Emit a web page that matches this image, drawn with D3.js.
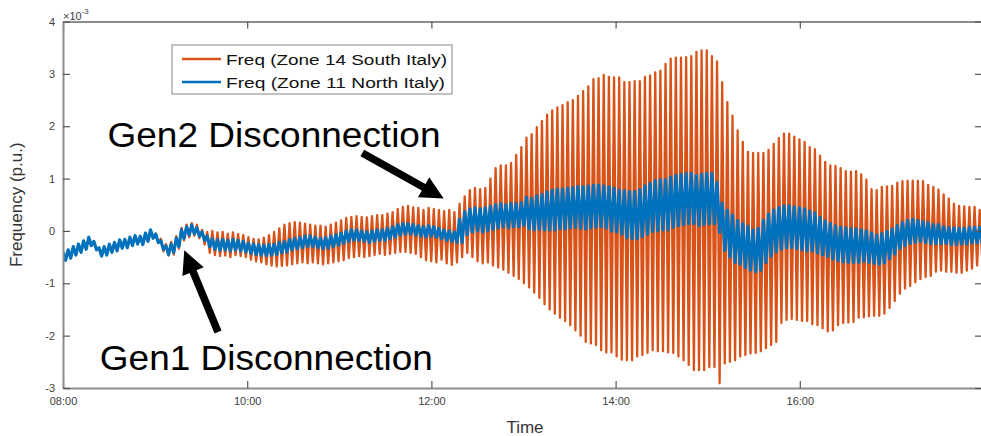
<!DOCTYPE HTML>
<html>
<head>
  <meta charset="utf-8">
  <title>Zone frequency after generator disconnections</title>
  <script src="https://d3js.org/d3.v7.min.js"></script>
  <style>
    body { margin: 0; background: #fff; }
    svg text { font-family: "Liberation Sans", Arial, sans-serif; }
    .axis .domain { stroke: #8c8c8c; stroke-width: 2; }
    .axis .tick line { stroke: #555; stroke-width: 1.2; }
    .axis .tick text { fill: #404040; font-size: 11px; }
  </style>
</head>
<body>
  <script>
    // one swing per cycle: the peak is at the cycle start, the trough half a cycle later
    var cycleStart = "08:00";
    var cycleMinutes = 3.355;

    var xTicks = ["08:00", "10:00", "12:00", "14:00", "16:00"];
    var yTicks = [-3, -2, -1, 0, 1, 2, 3, 4];

    // Freq (Zone 14 South Italy), in 1e-3 p.u.
    var southPeaks = [
      -0.41,-0.37,-0.31,-0.26,-0.20,-0.13,-0.21,-0.33,-0.31,-0.26,-0.23,-0.18,-0.17,-0.13,-0.10,-0.11,-0.05,0.01,-0.05,
      -0.15,-0.25,-0.21,-0.10,0.06,0.12,0.15,0.12,0.02,
      -0.02,0.00,-0.03,-0.02,-0.05,-0.03,-0.06,-0.08,-0.12,-0.15,-0.16,-0.13,-0.08,-0.02,0.05,0.12,0.15,0.17,0.16,0.14,0.12,0.10,0.10,0.08,0.12,
      0.16,0.20,0.25,0.27,0.28,0.27,0.26,0.28,0.30,0.30,0.33,0.36,0.42,0.46,0.48,0.45,0.44,0.40,0.44,0.42,0.40,0.38,0.40,0.36,
      0.52,0.66,0.78,0.82,0.80,0.82,1.00,1.20,1.25,1.25,1.30,1.45,1.60,1.78,1.85,1.98,2.10,2.22,2.30,2.36,2.40,2.46,2.50,
      2.58,2.67,2.76,2.90,2.92,2.98,2.94,2.93,2.93,2.84,2.84,2.86,2.86,2.94,2.97,3.03,3.06,3.19,3.29,3.31,3.31,3.32,3.34,3.42,3.45,3.45,3.34,3.24,
      2.84,2.46,2.20,1.92,1.70,1.51,1.49,1.49,1.49,1.55,1.66,1.77,1.86,1.86,1.80,1.75,1.70,1.60,1.56,1.44,
      1.32,1.25,1.24,1.20,1.14,1.13,1.14,1.08,0.98,0.80,0.78,0.84,0.85,0.86,0.92,0.95,0.96,0.96,0.96,0.95,0.88,0.84,0.79,0.70,0.62,0.52,0.48,0.47,0.46,0.46,0.40,0.38
    ];
    var southTroughs = [
      -0.55,-0.51,-0.45,-0.40,-0.34,-0.27,-0.35,-0.47,-0.45,-0.40,-0.37,-0.32,-0.31,-0.27,-0.24,-0.25,-0.19,-0.13,-0.23,
      -0.39,-0.47,-0.45,-0.34,-0.18,-0.12,-0.09,-0.14,-0.26,
      -0.42,-0.46,-0.48,-0.47,-0.50,-0.46,-0.48,-0.50,-0.55,-0.58,-0.60,-0.64,-0.66,-0.68,-0.67,-0.66,-0.64,-0.62,-0.60,-0.62,-0.60,-0.62,-0.64,-0.62,-0.60,
      -0.58,-0.56,-0.52,-0.50,-0.48,-0.50,-0.48,-0.46,-0.44,-0.46,-0.44,-0.42,-0.40,-0.40,-0.42,-0.44,-0.50,-0.56,-0.58,-0.60,-0.55,-0.62,-0.65,-0.60,
      -0.50,-0.42,-0.50,-0.58,-0.62,-0.60,-0.66,-0.70,-0.74,-0.80,-0.86,-0.92,-1.00,-1.08,-1.18,-1.28,-1.40,-1.50,-1.58,-1.66,-1.72,-1.80,-1.90,
      -2.00,-2.12,-2.15,-2.18,-2.28,-2.32,-2.32,-2.40,-2.46,-2.47,-2.47,-2.40,-2.37,-2.33,-2.28,-2.30,-2.30,-2.32,-2.33,-2.40,-2.47,-2.56,-2.66,-2.66,-2.66,-2.60,-2.60,-2.91,
      -2.53,-2.50,-2.47,-2.40,-2.37,-2.34,-2.33,-2.30,-2.24,-2.18,-2.12,-1.76,-1.70,-1.68,-1.70,-1.72,-1.72,-1.78,-1.80,-1.86,
      -1.92,-1.90,-1.80,-1.76,-1.75,-1.74,-1.66,-1.65,-1.63,-1.62,-1.62,-1.58,-1.47,-1.34,-1.20,-1.10,-1.05,-0.98,-0.92,-0.88,-0.86,-0.78,-0.76,-0.78,-0.78,-0.80,-0.80,-0.76,-0.72,-0.66,-0.58,-0.54
    ];

    // Freq (Zone 11 North Italy), in 1e-3 p.u.
    var northPeaks = [
      -0.40,-0.36,-0.30,-0.25,-0.19,-0.12,-0.20,-0.32,-0.30,-0.25,-0.22,-0.17,-0.16,-0.12,-0.09,-0.10,-0.04,0.02,-0.06,-0.19,-0.29,-0.25,-0.14,0.02,0.08,0.11,0.06,-0.02,
      -0.10,-0.15,-0.17,-0.16,-0.18,-0.16,-0.18,-0.20,-0.23,-0.25,-0.26,-0.27,-0.26,-0.25,-0.22,-0.20,-0.16,-0.14,-0.12,-0.10,-0.10,-0.12,-0.14,-0.13,-0.10,
      -0.07,-0.04,0.00,0.02,0.02,0.00,-0.02,0.00,0.02,0.02,0.05,0.08,0.12,0.14,0.14,0.12,0.10,0.08,0.10,0.08,0.05,0.02,0.00,-0.02,
      0.22,0.37,0.42,0.44,0.42,0.44,0.47,0.50,0.52,0.50,0.52,0.52,0.54,0.64,0.62,0.67,0.70,0.74,0.78,0.80,0.80,0.82,0.83,
      0.85,0.84,0.86,0.87,0.88,0.86,0.84,0.82,0.78,0.77,0.75,0.75,0.79,0.86,0.91,0.96,0.98,0.98,1.03,1.06,1.08,1.10,1.10,1.06,1.08,1.10,1.10,0.93,
      0.53,0.40,0.30,0.20,0.14,0.09,0.02,0.05,0.20,0.32,0.40,0.45,0.48,0.48,0.46,0.44,0.42,0.38,0.34,0.26,
      0.19,0.14,0.09,0.07,0.06,0.04,0.04,0.02,0.00,-0.04,-0.08,-0.05,-0.01,0.04,0.10,0.16,0.20,0.22,0.20,0.18,0.16,0.12,0.12,0.08,0.06,0.06,0.05,0.05,0.07,0.07,0.07,0.07
    ];
    var northTroughs = [
      -0.56,-0.52,-0.46,-0.41,-0.35,-0.28,-0.36,-0.48,-0.46,-0.41,-0.38,-0.33,-0.32,-0.28,-0.25,-0.26,-0.20,-0.14,-0.22,-0.35,-0.45,-0.41,-0.30,-0.14,-0.08,-0.05,-0.10,-0.18,
      -0.30,-0.35,-0.37,-0.36,-0.38,-0.36,-0.38,-0.40,-0.43,-0.45,-0.46,-0.47,-0.46,-0.45,-0.42,-0.40,-0.36,-0.34,-0.32,-0.30,-0.30,-0.32,-0.34,-0.33,-0.30,
      -0.27,-0.24,-0.20,-0.18,-0.18,-0.20,-0.22,-0.20,-0.18,-0.18,-0.15,-0.12,-0.08,-0.06,-0.06,-0.08,-0.10,-0.12,-0.10,-0.12,-0.15,-0.18,-0.20,-0.22,
      -0.22,-0.07,-0.02,0.00,-0.02,0.00,0.03,0.06,0.08,0.06,0.08,0.08,0.10,0.04,0.02,0.03,0.02,0.02,0.02,0.04,0.04,0.06,0.07,
      0.05,0.04,0.06,0.07,0.08,0.06,0.00,-0.02,-0.06,-0.13,-0.15,-0.15,-0.11,-0.06,-0.01,0.00,0.02,0.02,0.07,0.10,0.12,0.14,0.14,0.10,0.12,0.14,0.14,-0.03,
      -0.37,-0.50,-0.60,-0.64,-0.70,-0.75,-0.78,-0.75,-0.60,-0.48,-0.40,-0.35,-0.32,-0.32,-0.34,-0.36,-0.38,-0.38,-0.42,-0.46,
      -0.49,-0.54,-0.57,-0.59,-0.60,-0.60,-0.60,-0.58,-0.60,-0.62,-0.64,-0.61,-0.53,-0.44,-0.34,-0.28,-0.24,-0.22,-0.20,-0.22,-0.24,-0.24,-0.24,-0.24,-0.26,-0.26,-0.25,-0.25,-0.23,-0.23,-0.23,-0.23
    ];

    var seriesNames = ["Freq (Zone 14 South Italy)", "Freq (Zone 11 North Italy)"];
    var seriesColors = ["#D95319", "#0072BD"];

    // annotation anchors in data units (time, 1e-3 p.u.)
    var notes = [
      { text: "Gen2 Disconnection", at: ["08:29", 1.60], tail: ["11:15", 1.49], tip: ["12:08", 0.62] },
      { text: "Gen1 Disconnection", at: ["08:24", -2.66], tail: ["09:41", -1.93], tip: ["09:19", -0.37] }
    ];

    var width = 981;
    var height = 436;
    var parseTime = d3.timeParse("%H:%M");

    var x = d3.scaleTime()
      .domain([parseTime("08:00"), parseTime("18:00")])
      .range([63, 984]);
    var y = d3.scaleLinear()
      .domain([-3, 4])
      .range([388, 21.5]);

    function buildSeries(peaks, troughs) {
      var t0 = +parseTime(cycleStart);
      var step = cycleMinutes * 60000;
      var pts = [];
      peaks.forEach(function(p, i) {
        pts.push({ t: new Date(t0 + i * step), v: p });
        pts.push({ t: new Date(t0 + (i + 0.5) * step), v: troughs[i] });
      });
      return pts;
    }

    var series = [
      buildSeries(southPeaks, southTroughs),
      buildSeries(northPeaks, northTroughs)
    ];

    var svg = d3.select("body")
      .append("svg")
      .attr("width", width)
      .attr("height", height);

    svg.append("clipPath")
      .attr("id", "plot")
      .append("rect")
      .attr("x", x.range()[0])
      .attr("y", y.range()[1])
      .attr("width", x.range()[1] - x.range()[0])
      .attr("height", y.range()[0] - y.range()[1]);

    var line = d3.line()
      .x(function(d) { return x(d.t); })
      .y(function(d) { return y(d.v); });

    svg.append("g")
      .attr("clip-path", "url(#plot)")
      .selectAll("path")
      .data(series)
      .enter()
      .append("path")
      .attr("d", line)
      .attr("fill", "none")
      .attr("stroke", function(d, i) { return seriesColors[i]; })
      .attr("stroke-width", function(d, i) { return i == 0 ? 2.3 : 3.2; })
      .attr("stroke-linejoin", "round");

    // axes box, ticks pointing inward like MATLAB
    var xTickDates = xTicks.map(parseTime);

    svg.append("g")
      .attr("class", "axis")
      .attr("transform", "translate(0," + y.range()[0] + ")")
      .call(d3.axisBottom(x).tickValues(xTickDates).tickFormat(d3.timeFormat("%H:%M"))
        .tickSizeInner(-7).tickSizeOuter(0).tickPadding(9));

    svg.append("g")
      .attr("class", "axis")
      .attr("transform", "translate(0," + y.range()[1] + ")")
      .call(d3.axisTop(x).tickValues(xTickDates).tickFormat("")
        .tickSizeInner(-7).tickSizeOuter(0));

    svg.append("g")
      .attr("class", "axis")
      .attr("transform", "translate(" + x.range()[0] + ",0)")
      .call(d3.axisLeft(y).tickValues(yTicks).tickFormat(function(d) { return String(d); })
        .tickSizeInner(-7).tickSizeOuter(0).tickPadding(8));

    svg.append("g")
      .attr("class", "axis")
      .attr("transform", "translate(" + x.range()[1] + ",0)")
      .call(d3.axisRight(y).tickValues(yTicks).tickFormat("")
        .tickSizeInner(-9).tickSizeOuter(0));

    // exponent label
    var expo = svg.append("text")
      .attr("x", 63)
      .attr("y", 20)
      .style("font-size", "11px")
      .style("fill", "#404040")
      .text("\u00d710");
    expo.append("tspan")
      .attr("dy", -6)
      .style("font-size", "8px")
      .text("-3");

    svg.append("text")
      .attr("x", 525)
      .attr("y", 433)
      .attr("text-anchor", "middle")
      .style("font-size", "17px")
      .style("fill", "#333")
      .text("Time");

    svg.append("text")
      .attr("transform", "translate(22," + ((y.range()[0] + y.range()[1]) / 2) + ") rotate(-90)")
      .attr("text-anchor", "middle")
      .style("font-size", "17px")
      .style("fill", "#333")
      .text("Frequency (p.u.)");

    // legend
    var legend = svg.append("g").attr("transform", "translate(172,45)");
    legend.append("rect")
      .attr("width", 280)
      .attr("height", 49)
      .attr("fill", "#fff")
      .attr("stroke", "#9a9a9a")
      .attr("stroke-width", 1.2);
    var item = legend.selectAll("g.item")
      .data(seriesNames)
      .enter()
      .append("g")
      .attr("class", "item")
      .attr("transform", function(d, i) { return "translate(0," + (14 + i * 23) + ")"; });
    item.append("line")
      .attr("x1", 10)
      .attr("x2", 49)
      .attr("stroke", function(d, i) { return seriesColors[i]; })
      .attr("stroke-width", 2.6);
    item.append("text")
      .attr("x", 54)
      .attr("y", 5.5)
      .attr("textLength", function(d, i) { return i == 0 ? 221 : 219; })
      .attr("lengthAdjust", "spacingAndGlyphs")
      .style("font-size", "15.5px")
      .style("fill", "#111")
      .text(function(d) { return d; });

    // annotations with arrows
    function pt(a) { return [x(parseTime(a[0])), y(a[1])]; }

    notes.forEach(function(n) {
      var at = pt(n.at), tail = pt(n.tail), tip = pt(n.tip);
      var dx = tip[0] - tail[0], dy = tip[1] - tail[1];
      var len = Math.sqrt(dx * dx + dy * dy);
      var ux = dx / len, uy = dy / len;
      var headLen = 23, headHalf = 11.5;
      var bx = tip[0] - ux * headLen, by = tip[1] - uy * headLen;

      svg.append("text")
        .attr("x", at[0])
        .attr("y", at[1])
        .attr("textLength", 333)
        .attr("lengthAdjust", "spacingAndGlyphs")
        .style("font-size", "35px")
        .style("fill", "#000")
        .text(n.text);

      svg.append("line")
        .attr("x1", tail[0])
        .attr("y1", tail[1])
        .attr("x2", bx + ux * 2)
        .attr("y2", by + uy * 2)
        .attr("stroke", "#000")
        .attr("stroke-width", 7.5);

      svg.append("polygon")
        .attr("points", [
          [tip[0], tip[1]],
          [bx - uy * headHalf, by + ux * headHalf],
          [bx + uy * headHalf, by - ux * headHalf]
        ].map(function(p) { return p.join(","); }).join(" "))
        .attr("fill", "#000");
    });
  </script>
</body>
</html>
